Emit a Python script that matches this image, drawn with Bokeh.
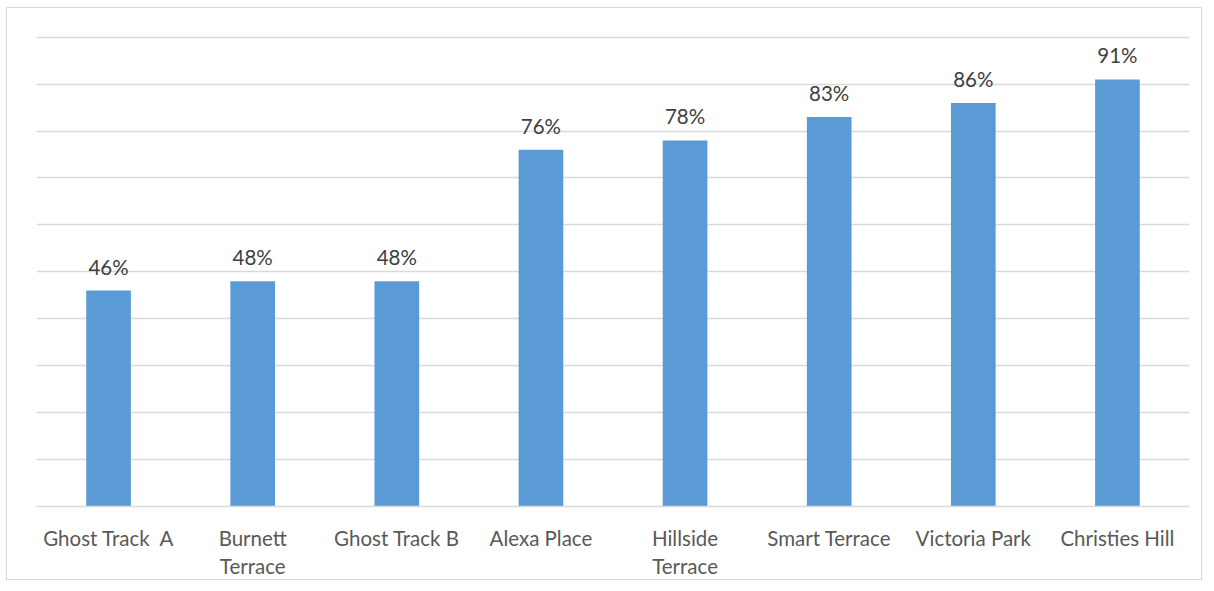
from bokeh.plotting import figure
from bokeh.models import ColumnDataSource, SingleIntervalTicker, Range1d
from bokeh.embed import file_html
from bokeh.resources import INLINE
from bokeh.core.properties import value

categories = ["Ghost Track\u00a0\u00a0A", "Burnett\nTerrace", "Ghost Track B", "Alexa Place",
              "Hillside\nTerrace", "Smart Terrace", "Victoria Park", "Christies Hill"]
values = [46, 48, 48, 76, 78, 83, 86, 91]
labels = [f"{v}%" for v in values]

src = ColumnDataSource(dict(cat=categories, val=values, lab=labels))

p = figure(x_range=categories, y_range=Range1d(0, 101), width=1196, height=573,
           output_backend="svg", toolbar_location=None,
           min_border_left=29, min_border_top=24, min_border_right=14, min_border_bottom=75)
p.styles = {"border": "1.5px solid #d9d9d9", "margin-left": "6px", "margin-top": "7px"}
p.outline_line_color = None
p.background_fill_color = "white"
p.border_fill_color = "white"

p.vbar(x="cat", top="val", width=0.31, source=src, fill_color="#5b9bd5", line_color=None)
p.text(x="cat", y="val", text="lab", source=src, text_align="center", text_baseline="bottom",
       y_offset=-12, text_font=value("Lato"), text_font_size="20.5px", text_color="#404040")

p.yaxis.visible = False
p.yaxis.ticker = SingleIntervalTicker(interval=10)
p.ygrid.ticker = SingleIntervalTicker(interval=10)
p.ygrid.grid_line_color = "#d9d9d9"
p.ygrid.grid_line_width = 1.5
p.xgrid.grid_line_color = None

p.xaxis.axis_line_color = "#d9d9d9"
p.xaxis.axis_line_width = 1.5
p.xaxis.major_tick_line_color = None
p.xaxis.minor_tick_line_color = None
p.xaxis.major_label_text_font = "Lato"
p.xaxis.major_label_text_font_size = "20.5px"
p.xaxis.major_label_text_color = "#595959"
p.xaxis.major_label_standoff = 13
p.x_range.range_padding = 0

open("out.html", "w").write(file_html(p, INLINE))
